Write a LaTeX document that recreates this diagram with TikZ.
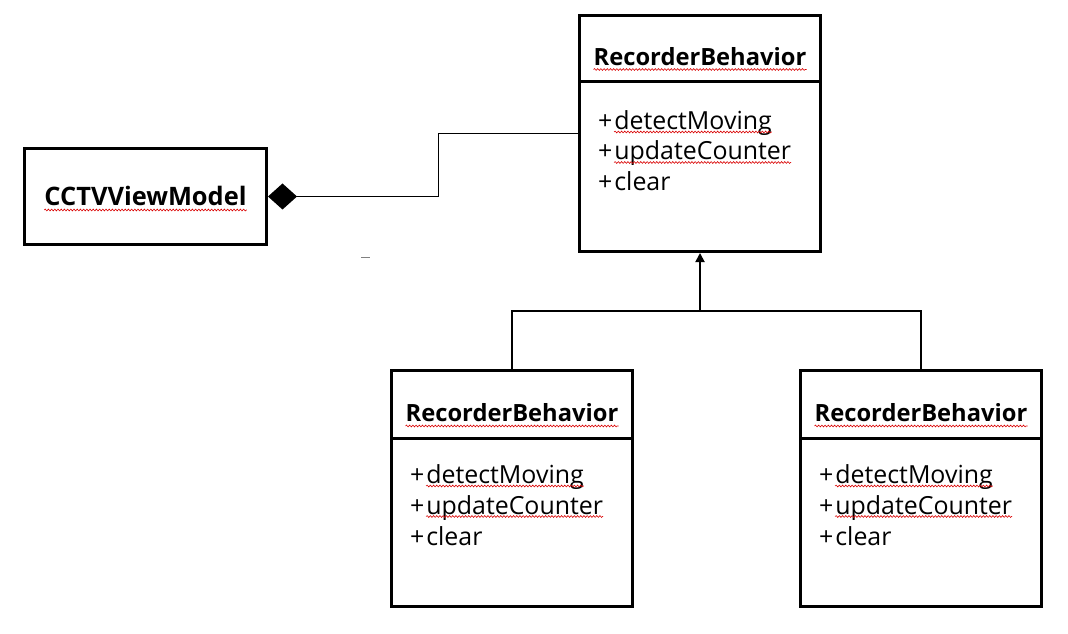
\documentclass[tikz,border=0pt]{standalone}
\usepackage{fontspec}
\setmainfont{Open Sans}
\usetikzlibrary{arrows.meta,decorations.pathmorphing}
\begin{document}
\begin{tikzpicture}[x=1bp,y=-1bp,
  box/.style={draw,line width=3bp,inner sep=0pt},
  classbox/.style={box,minimum width=241bp,minimum height=236bp},
  divider/.style={line width=3bp},
  title/.style={font=\bfseries\fontsize{23.8}{28}\selectfont,inner sep=0pt,anchor=base},
  bigtitle/.style={title,font=\bfseries\fontsize{25.5}{30}\selectfont},
  item/.style={font=\fontsize{25}{30}\selectfont,inner sep=0pt,anchor=base west},
  conn/.style={line width=1.2bp},
  squig/.style={red!85!black,line width=0.6bp,decorate,decoration={snake,amplitude=0.9bp,segment length=3.2bp}}
]
\useasboundingbox (0,0) rectangle (1068,634);

% boxes
\node[box,minimum width=242bp,minimum height=96bp] (cctv) at (145.5,196.5) {};
\node[classbox] (rb1) at (700,133.5) {};
\node[classbox] (rb2) at (512,488.5) {};
\node[classbox] (rb3) at (921,488.5) {};

% dividers
\draw[divider] ([shift={(0,68)}]rb1.north west) -- ([shift={(0,68)}]rb1.north east);
\draw[divider] ([shift={(0,69)}]rb2.north west) -- ([shift={(0,69)}]rb2.north east);
\draw[divider] ([shift={(0,69)}]rb3.north west) -- ([shift={(0,69)}]rb3.north east);

% texts
\node[bigtitle] (tc) at ([shift={(0,9.5)}]cctv.center) {CCTVViewModel};
\node[title] (t1) at ([shift={(0,51.5)}]rb1.north) {RecorderBehavior};
\node[title] (t2) at ([shift={(0,53)}]rb2.north) {RecorderBehavior};
\node[title] (t3) at ([shift={(0,53)}]rb3.north) {RecorderBehavior};

\foreach \b/\dy in {rb1/0,rb2/-1,rb3/-1}{
  \node[item] (\b p1) at ([shift={(20,115.5+\dy)}]\b.north west) {+};
  \node[item] (\b w1) at ([shift={(1.5,0)}]\b p1.base east) {detectMoving};
  \node[item] (\b p2) at ([shift={(20,146+\dy)}]\b.north west) {+};
  \node[item] (\b w2) at ([shift={(1.5,0)}]\b p2.base east) {updateCounter};
  \node[item] (\b p3) at ([shift={(20,177+\dy)}]\b.north west) {+};
  \node[item] (\b w3) at ([shift={(1.5,0)}]\b p3.base east) {clear};
  \draw[squig] ([shift={(0,2.5)}]\b w1.base west) -- ([shift={(0,2.5)}]\b w1.base east);
  \draw[squig] ([shift={(0,2.5)}]\b w2.base west) -- ([shift={(0,2.5)}]\b w2.base east);
}
\foreach \t in {tc,t1,t2,t3}{
  \draw[squig] ([shift={(0,4)}]\t.base west) -- ([shift={(0,4)}]\t.base east);
}

% composition
\draw[conn,{Diamond[length=29bp,width=26bp]}-] (cctv.east) -- ++(170.5,0) |- (rb1.west);

% inheritance
\coordinate (j) at (700,311);
\draw[conn] (rb2.north) |- (j) -| (rb3.north);
\draw[line width=1.8bp,-{Triangle[length=9bp,width=9bp]}] (j) -- (rb1.south);

% stray mark
\draw[gray,line width=1bp] (361,257.5) -- (370,257.5);
\end{tikzpicture}
\end{document}
